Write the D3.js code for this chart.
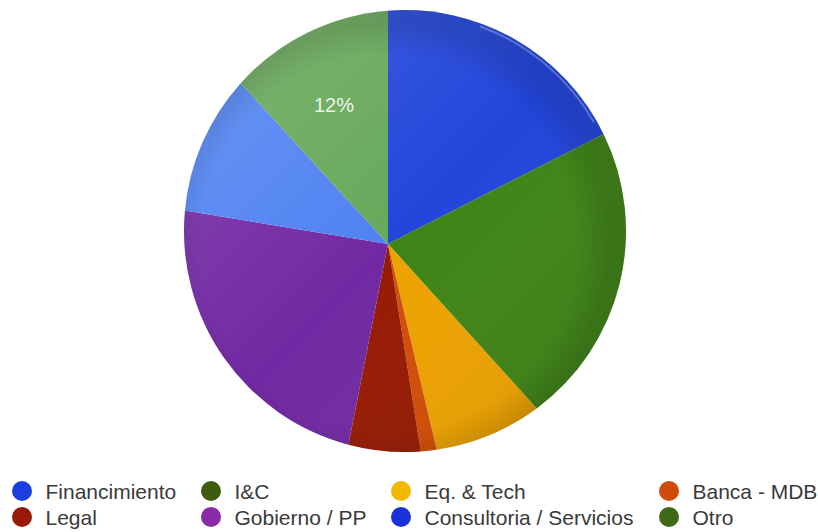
<!DOCTYPE html>
<html>
<head>
<meta charset="utf-8">
<script src="https://cdn.jsdelivr.net/npm/d3@7"></script>
<style>
  html, body { margin: 0; padding: 0; background: #fff; }
  svg { display: block; }
  text { font-family: "Liberation Sans", Arial, sans-serif; }
</style>
</head>
<body>
<svg id="chart" width="818" height="532"></svg>
<script>
// Sector shares (percent), clockwise from 12 o'clock
const categories = ["Financimiento", "I&C", "Eq. & Tech", "Banca - MDB", "Legal", "Gobierno / PP", "Consultoria / Servicios", "Otro"];
const values = [17.5, 20.8, 8.0, 1.2, 5.6, 24.5, 10.6, 11.8];
const sliceColors = ["#2346db", "#3f8416", "#eda200", "#d24d05", "#961a02", "#7229a3", "#4f82f2", "#67a85a"];
const legendColors = ["#1b3ee0", "#3d5c10", "#f5b800", "#d04a0a", "#961a05", "#8a2aa8", "#1a30d8", "#3e6a18"];
const labelled = ["Otro"];

const svg = d3.select("#chart");
const defs = svg.append("defs");

// Tilted disc: outline circle with the apex slightly off-centre
const C = { x: 405, y: 231 }, R = 221;
const V = { x: 388, y: 244 };

const pie = d3.pie().sort(null).value(d => d.value);
const arcs = pie(categories.map((c, i) => ({ name: c, value: values[i], color: sliceColors[i] })));

// point where a ray from the apex at angle a meets the rim
function rim(a) {
  const d = { x: Math.sin(a), y: -Math.cos(a) };
  const w = { x: V.x - C.x, y: V.y - C.y };
  const b = w.x * d.x + w.y * d.y;
  const c = w.x * w.x + w.y * w.y - R * R;
  const t = -b + Math.sqrt(b * b - c);
  return { x: V.x + t * d.x, y: V.y + t * d.y };
}
function slicePath(d) {
  const p0 = rim(d.startAngle), p1 = rim(d.endAngle);
  const a0 = Math.atan2(p0.x - C.x, -(p0.y - C.y));
  const a1 = Math.atan2(p1.x - C.x, -(p1.y - C.y));
  let span = a1 - a0; while (span < 0) span += 2 * Math.PI;
  const large = span > Math.PI ? 1 : 0;
  return `M${V.x},${V.y}L${p0.x},${p0.y}A${R},${R} 0 ${large} 1 ${p1.x},${p1.y}Z`;
}

// soft lighting across the disc
const lg = defs.append("linearGradient").attr("id", "light")
  .attr("x1", "0").attr("y1", "0").attr("x2", "1").attr("y2", "1");
lg.append("stop").attr("offset", "0").attr("stop-color", "#fff").attr("stop-opacity", 0.16);
lg.append("stop").attr("offset", "0.5").attr("stop-color", "#fff").attr("stop-opacity", 0);
lg.append("stop").attr("offset", "1").attr("stop-color", "#000").attr("stop-opacity", 0.1);

const rg = defs.append("radialGradient").attr("id", "rimShade")
  .attr("cx", (V.x - C.x + R) / (2 * R)).attr("cy", (V.y - C.y + R) / (2 * R)).attr("r", 0.5);
rg.append("stop").attr("offset", "0.85").attr("stop-color", "#000").attr("stop-opacity", 0);
rg.append("stop").attr("offset", "1").attr("stop-color", "#000").attr("stop-opacity", 0.12);

const g = svg.append("g");
g.selectAll("path.slice").data(arcs).join("path")
  .attr("class", "slice")
  .attr("d", slicePath)
  .attr("fill", d => d.data.color);

g.append("circle").attr("cx", C.x).attr("cy", C.y).attr("r", R)
  .attr("fill", "url(#light)");
g.append("circle").attr("cx", C.x).attr("cy", C.y).attr("r", R)
  .attr("fill", "url(#rimShade)");

// thin highlight along the upper-right rim
g.append("path")
  .attr("d", d3.arc()({ innerRadius: R - 4, outerRadius: R - 2, startAngle: 0.35, endAngle: 1.05 }))
  .attr("transform", `translate(${C.x},${C.y})`)
  .attr("fill", "#fff").attr("opacity", 0.25);

// percentage label
function labelPos(d) {
  const a = (d.startAngle + d.endAngle) / 2, p = rim(a);
  return { x: V.x + (p.x - V.x) * 0.66, y: V.y + (p.y - V.y) * 0.66 };
}
g.selectAll("text.pct").data(arcs.filter(d => labelled.includes(d.data.name))).join("text")
  .attr("class", "pct")
  .attr("x", d => labelPos(d).x)
  .attr("y", d => labelPos(d).y + 7)
  .attr("text-anchor", "middle")
  .attr("fill", "#eef4ea")
  .attr("font-size", 20)
  .text(d => Math.round(d.value) + "%");

// legend: 4 columns x 2 rows
const colX = [22, 211, 401, 669];
const rowY = [491, 517];
const leg = svg.append("g").selectAll("g").data(categories).join("g")
  .attr("transform", (d, i) => `translate(${colX[i % 4]},${rowY[Math.floor(i / 4)]})`);
leg.append("circle").attr("r", 10).attr("fill", (d, i) => legendColors[i]);
leg.append("text").attr("x", 23.5).attr("y", 8)
  .attr("font-size", 21).attr("fill", "#3a3a3a")
  .text(d => d);
</script>
</body>
</html>
